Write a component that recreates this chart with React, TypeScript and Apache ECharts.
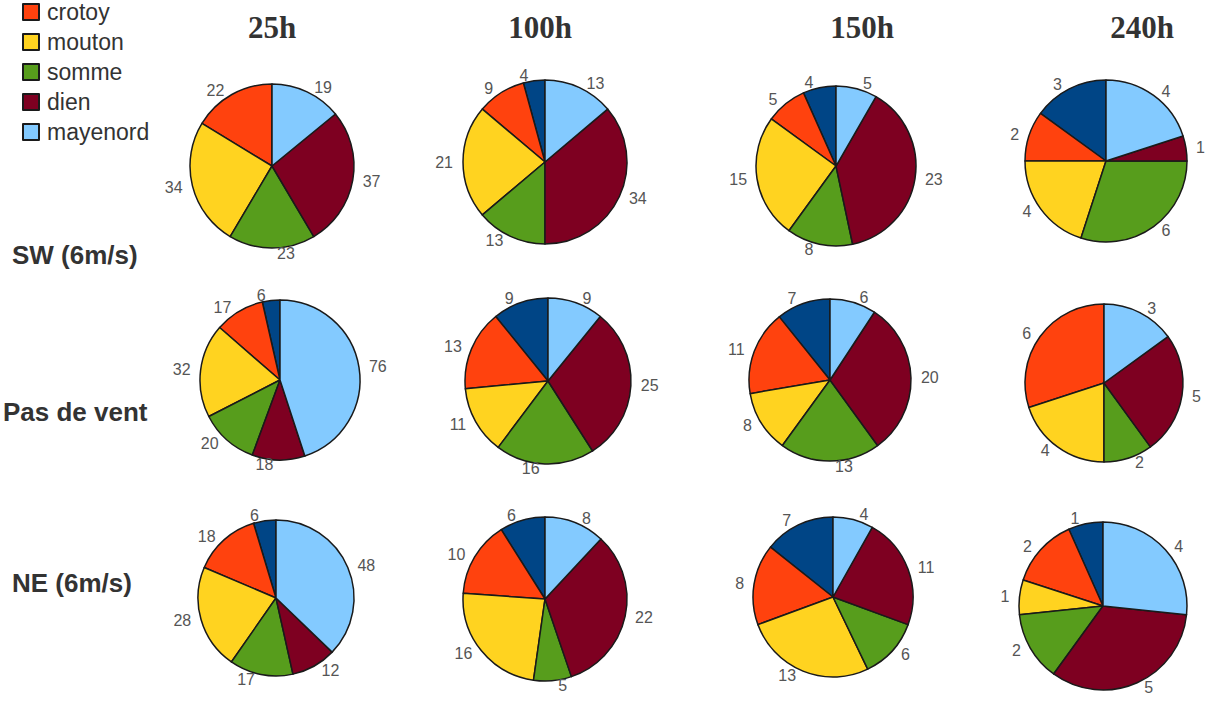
import React, { useEffect, useRef } from "react";
import * as echarts from "echarts";

const seriesNames = ["autre", "crotoy", "mouton", "somme", "dien", "mayenord"];
const legendNames = ["crotoy", "mouton", "somme", "dien", "mayenord"];
const colors = ["#004586", "#ff420e", "#ffd320", "#579d1c", "#7e0021", "#83caff"];

const columnLabels = ["25h", "100h", "150h", "240h"];
const rowLabels = ["SW (6m/s)", "Pas de vent", "NE (6m/s)"];

// values in order: autre, crotoy, mouton, somme, dien, mayenord
const sw25 = [0, 22, 34, 23, 37, 19];
const sw100 = [4, 9, 21, 13, 34, 13];
const sw150 = [4, 5, 15, 8, 23, 5];
const sw240 = [3, 2, 4, 6, 1, 4];

const calm25 = [6, 17, 32, 20, 18, 76];
const calm100 = [9, 13, 11, 16, 25, 9];
const calm150 = [7, 11, 8, 13, 20, 6];
const calm240 = [0, 6, 4, 2, 5, 3];

const ne25 = [6, 18, 28, 17, 12, 48];
const ne100 = [6, 10, 16, 5, 22, 8];
const ne150 = [7, 8, 13, 6, 11, 4];
const ne240 = [1, 2, 1, 2, 5, 4];

const grid = [
  [sw25, sw100, sw150, sw240],
  [calm25, calm100, calm150, calm240],
  [ne25, ne100, ne150, ne240],
];

// layout
const centers = [
  [[272, 166], [545, 162], [836, 166], [1106, 161]],
  [[280, 380], [548, 381], [830, 380], [1104, 383]],
  [[276, 598], [545, 599], [833, 597], [1103, 606]],
];
const radii = [
  [82, 82, 80, 81],
  [80, 83, 81, 79],
  [78, 82, 80, 84],
];
const headerX = [272, 540, 862, 1142];
const rowY = [255, 412, 583];
const rowX = [12, 3, 12];

export default function App() {
  const ref = useRef<HTMLDivElement>(null);
  useEffect(() => {
    document.body.style.margin = "0";
    const chart = echarts.init(ref.current!, null, { renderer: "svg" });
    const series: any[] = [];
    grid.forEach((row, ri) => {
      row.forEach((vals, ci) => {
        series.push({
          type: "pie",
          center: centers[ri][ci],
          radius: radii[ri][ci],
          startAngle: 90,
          clockwise: false,
          avoidLabelOverlap: false,
          itemStyle: { borderColor: "#1a1a1a", borderWidth: 1.5 },
          label: {
            show: true,
            position: "outside",
            formatter: "{c}",
            color: "#555",
            fontSize: 16,
            fontFamily: "Liberation Sans",
          },
          labelLine: { show: false, length: 5, length2: 0 },
          emphasis: { disabled: true },
          data: vals
            .map((v, i) => ({ name: seriesNames[i], value: v, itemStyle: { color: colors[i] } }))
            .filter((d) => d.value > 0),
        });
      });
    });
    const graphics: any[] = [];
    columnLabels.forEach((t, i) => {
      graphics.push({
        type: "text",
        x: headerX[i],
        y: 27,
        style: {
          text: t,
          fill: "#333",
          font: "bold 31px 'Liberation Serif'",
          textAlign: "center",
          textVerticalAlign: "middle",
        },
      });
    });
    rowLabels.forEach((t, i) => {
      graphics.push({
        type: "text",
        x: rowX[i],
        y: rowY[i],
        style: {
          text: t,
          fill: "#333",
          font: "bold 26px 'Liberation Sans'",
          textAlign: "left",
          textVerticalAlign: "middle",
        },
      });
    });
    chart.setOption({
      animation: false,
      color: colors,
      legend: {
        data: legendNames,
        orient: "vertical",
        left: 22,
        top: 0,
        padding: 0,
        itemWidth: 16,
        itemHeight: 16,
        itemGap: 6,
        icon: "rect",
        textStyle: { fontSize: 23, lineHeight: 24, color: "#333", fontFamily: "Liberation Sans", padding: [0, 0, 0, 3] },
        selectedMode: false,
      },
      graphic: graphics,
      series,
    });
    return () => chart.dispose();
  }, []);
  return <div ref={ref} style={{ width: 1207, height: 705 }} />;
}
